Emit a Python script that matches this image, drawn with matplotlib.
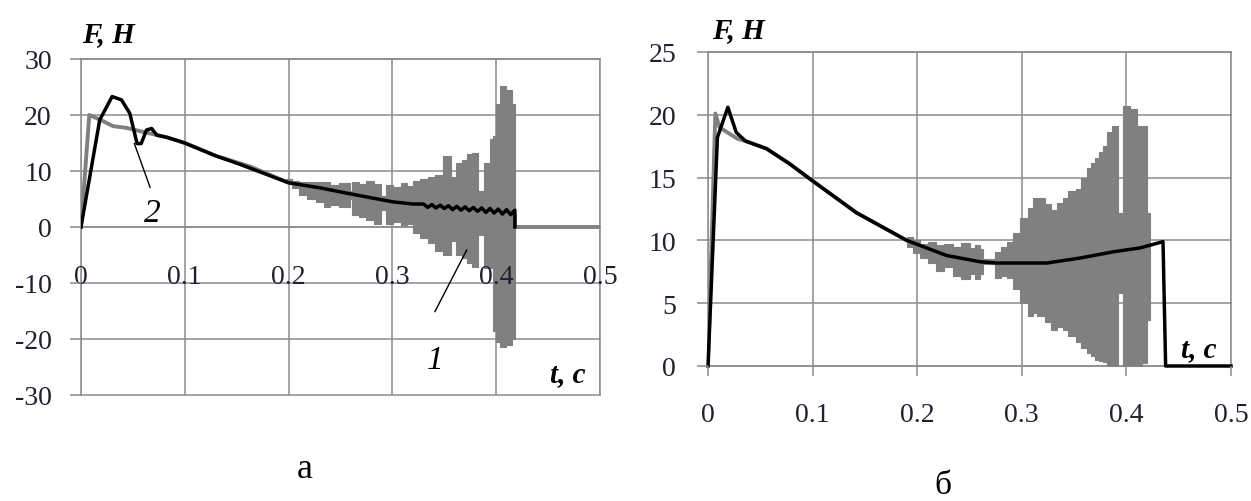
import matplotlib
matplotlib.use("Agg")
import matplotlib.pyplot as plt

plt.rcParams["font.family"] = ["Liberation Serif", "DejaVu Serif"]
plt.rcParams["axes.unicode_minus"] = False

# ---------------- panel "а" ----------------
# curve 1 (gray), smooth part
t_a1 = [0, 0.008, 0.018, 0.031, 0.044, 0.057, 0.069, 0.083, 0.1, 0.13, 0.163,
        0.2, 0.23, 0.26, 0.3, 0.35, 0.4, 0.418, 0.418, 0.5]
f_a1 = [0, 20.0, 19.2, 18.0, 17.7, 17.1, 16.6, 16.0, 15.0, 12.7, 10.8,
        7.9, 7.0, 5.9, 4.5, 3.4, 2.5, 2.0, 0, 0]

# curve 1 oscillation band, upper / lower envelope (held until next t)
t_band_a = [0.195, 0.203, 0.210, 0.218, 0.226, 0.234, 0.240, 0.249, 0.259, 0.261,
            0.268, 0.275, 0.282, 0.289, 0.294, 0.301, 0.308, 0.314, 0.320, 0.327,
            0.334, 0.341, 0.349, 0.356, 0.361, 0.367, 0.372, 0.377, 0.382, 0.388,
            0.394, 0.397, 0.400, 0.404, 0.409, 0.415, 0.418]
hi_a = [8.6, 8.3, 8.1, 8.1, 8.0, 8.1, 7.5, 7.8, 6.5, 8.0,
        7.6, 8.3, 7.6, 5.5, 7.5, 7.2, 7.8, 7.3, 8.3, 8.6,
        8.9, 9.2, 12.7, 8.9, 11.5, 12.0, 13.0, 13.2, 6.5, 11.5,
        15.7, 16.3, 22.0, 25.1, 24.5, 22.0, 22.0]
lo_a = [8.0, 7.0, 5.8, 5.0, 4.4, 3.6, 3.9, 3.6, 5.0, 2.2,
        1.8, 1.2, 0.6, 3.0, 0.6, 0.9, 0.4, 0.6, -1.1, -2.0,
        -2.8, -4.2, -5.0, -2.5, -5.0, -5.6, -6.5, -7.1, -1.5, -7.3,
        -7.3, -18.5, -20.5, -21.4, -21.0, -20.0, -20.0]

# curve 2 (black)
t_a2 = [0, 0.018, 0.030, 0.039, 0.047, 0.054, 0.058, 0.063, 0.068, 0.073, 0.083,
        0.1, 0.13, 0.153, 0.2, 0.23, 0.26, 0.3, 0.32, 0.33,
        0.334, 0.338, 0.342, 0.346, 0.350, 0.354, 0.358, 0.362, 0.366, 0.370,
        0.374, 0.378, 0.382, 0.386, 0.390, 0.394, 0.398, 0.402, 0.406, 0.410,
        0.414, 0.418, 0.418]
f_a2 = [0, 19.1, 23.3, 22.7, 20.3, 14.9, 14.9, 17.3, 17.6, 16.4, 16.0,
        15.0, 12.7, 11.2, 7.9, 7.0, 5.9, 4.5, 4.1, 4.1,
        3.5, 4.0, 3.4, 3.9, 3.3, 3.8, 3.1, 3.7, 3.0, 3.6,
        2.9, 3.5, 2.8, 3.4, 2.6, 3.3, 2.5, 3.2, 2.3, 3.1,
        2.2, 3.0, 0]

# ---------------- panel "б" ----------------
t_b1 = [0, 0.007, 0.011, 0.028, 0.04, 0.056, 0.078, 0.099, 0.142, 0.19,
        0.228, 0.26, 0.276, 0.324, 0.356, 0.388, 0.413, 0.42]
f_b1 = [0, 20.1, 19.0, 18.1, 17.8, 17.3, 16.1, 14.8, 12.2, 10.0,
        8.8, 8.3, 8.2, 8.2, 8.6, 9.1, 9.4, 9.5]

t_band_b = [0.19, 0.196, 0.203, 0.21, 0.218, 0.226, 0.234, 0.242, 0.25, 0.255,
            0.26, 0.263, 0.274, 0.28, 0.286, 0.292, 0.298, 0.306, 0.311, 0.315,
            0.322, 0.328, 0.334, 0.339, 0.344, 0.352, 0.357, 0.362, 0.366, 0.370,
            0.374, 0.378, 0.381, 0.386, 0.392, 0.397, 0.403, 0.41, 0.415, 0.42,
            0.4226]
hi_b = [10.3, 10.0, 9.7, 9.9, 9.6, 9.7, 9.5, 9.8, 9.4, 9.6,
        9.3, 8.5, 9.1, 9.5, 9.9, 10.6, 11.8, 12.6, 13.4, 13.4,
        12.9, 12.4, 13.0, 13.4, 13.9, 14.1, 15.0, 15.8, 16.2, 16.6,
        17.0, 17.5, 18.6, 19.1, 12.2, 20.7, 20.5, 19.1, 19.1, 12.2,
        12.2]
lo_b = [9.5, 9.0, 8.6, 8.2, 7.6, 7.9, 7.2, 6.9, 7.3, 6.9,
        7.3, 8.1, 7.0, 7.2, 7.0, 6.1, 5.0, 4.0, 4.2, 4.0,
        3.5, 2.9, 3.1, 2.9, 2.4, 1.9, 1.4, 1.0, 0.8, 0.5,
        0.4, 0.3, 0.0, 0.0, 5.8, 0.0, 0.0, 0.0, 0.2, 3.7,
        3.7]

t_b2 = [0, 0.009, 0.019, 0.027, 0.036, 0.056, 0.078, 0.099, 0.142, 0.19,
        0.228, 0.26, 0.276, 0.324, 0.356, 0.388, 0.413, 0.435, 0.4375, 0.5]
f_b2 = [0, 18.2, 20.6, 18.6, 17.9, 17.3, 16.1, 14.8, 12.2, 10.0,
        8.8, 8.3, 8.2, 8.2, 8.6, 9.1, 9.4, 9.9, 0, 0]

x_ticks = [0, 0.1, 0.2, 0.3, 0.4, 0.5]
x_labels = ["0", "0.1", "0.2", "0.3", "0.4", "0.5"]
y_ticks_a = [-30, -20, -10, 0, 10, 20, 30]
y_ticks_b = [0, 5, 10, 15, 20, 25]

GRID = "#8c8c8c"
GRAY = "#808080"
TXT = "#202030"
W, H = 1251, 502

fig = plt.figure(figsize=(W / 100, H / 100), dpi=100)
ax1 = fig.add_axes([81 / W, 1 - 396 / H, 519 / W, 336 / H])
ax2 = fig.add_axes([708 / W, 1 - 367 / H, 523 / W, 314 / H])

for ax, yt in ((ax1, y_ticks_a), (ax2, y_ticks_b)):
    ax.set_xlim(0, 0.5)
    ax.set_ylim(yt[0], yt[-1])
    ax.set_xticks(x_ticks)
    ax.set_xticklabels(x_labels)
    ax.set_yticks(yt)
    # grid drawn by hand so the tick labels can stay on top of the data
    for x in x_ticks:
        ax.axvline(x, color=GRID, lw=1.1, zorder=0.5)
    for y in yt:
        ax.axhline(y, color=GRID, lw=1.1, zorder=0.5, clip_on=False)
    ax.set_axisbelow(False)
    for sp in ax.spines.values():
        sp.set_color(GRID)
        sp.set_linewidth(1.1)
        sp.set_zorder(0.5)
    ax.tick_params(colors=GRID, labelcolor=TXT, labelsize=20, width=1.1)

# panel а
ax1.spines["bottom"].set_position(("data", 0))
ax1.tick_params(axis="y", length=8, pad=13)
ax1.tick_params(axis="x", length=0, pad=27)
ax1.fill_between(t_band_a, lo_a, hi_a, step="post", color=GRAY, lw=0.8,
                 edgecolor=GRAY, zorder=1)
ax1.plot(t_a1, f_a1, color=GRAY, lw=2.8, zorder=1.2)
ax1.plot(t_a2, f_a2, color="black", lw=2.5, zorder=2)
ax1.plot([0.0514, 0.0665], [14.9, 7.1], color="black", lw=1, zorder=2)
ax1.plot([0.3716, 0.341], [-4.1, -15.1], color="black", lw=1, zorder=2)
ax1.text(0.0684, 2.5, "2", fontsize=24, style="italic", ha="center", va="center")
ax1.text(0.341, -23.75, "1", fontsize=24, style="italic", ha="center", va="center")
ax1.text(0.026, 34.6, "F, H", fontsize=21, weight="bold", style="italic",
         ha="center", va="center", clip_on=False)
ax1.text(0.469, -26.25, "t, c", fontsize=21, weight="bold", style="italic",
         ha="center", va="center")

# panel б
ax2.tick_params(axis="y", length=8, pad=15)
ax2.tick_params(axis="x", length=7, pad=19)
ax2.fill_between(t_band_b, lo_b, hi_b, step="post", color=GRAY, lw=0.8,
                 edgecolor=GRAY, zorder=1)
ax2.plot(t_b1, f_b1, color=GRAY, lw=2.8, zorder=1.2)
ax2.plot(t_b2, f_b2, color="black", lw=2.5, zorder=2, clip_on=False)
ax2.text(0.0287, 26.8, "F, H", fontsize=21, weight="bold", style="italic",
         ha="center", va="center", clip_on=False)
ax2.text(0.469, 1.35, "t, c", fontsize=21, weight="bold", style="italic",
         ha="center", va="center")

fig.text(305 / W, 1 - 470 / H, "а", fontsize=26, ha="center", va="center")
fig.text(943 / W, 1 - 486 / H, "б", fontsize=24, ha="center", va="center")

fig.savefig("out.png", dpi=100)
